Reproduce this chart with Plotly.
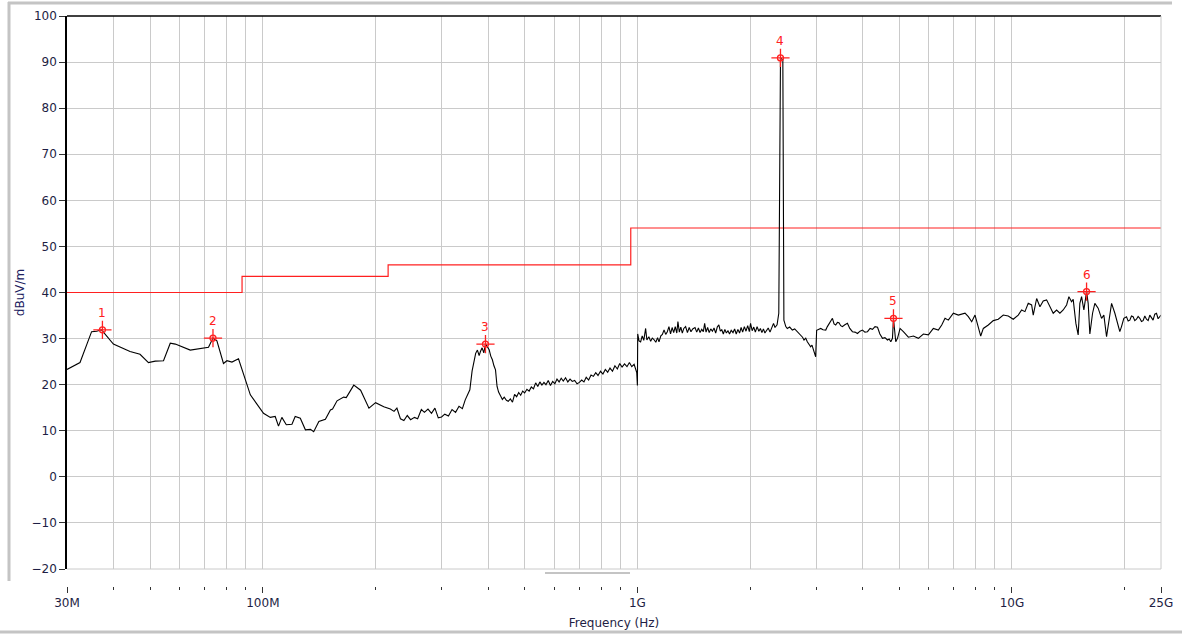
import numpy as np
import plotly.graph_objects as go

# ---------------- data (frequency in MHz, level in dBuV/m) ----------------
seg_a_freq = [30.0, 32.5, 34.9, 36.0, 37.1, 37.9, 39.9, 44.2, 47.0, 49.5, 51.6, 54.3, 56.6, 58.4,
              64.0, 71.6, 73.6, 75.4, 78.5, 80.2, 82.7, 86.1, 92.6, 100.4, 104.7, 107.9, 110.1,
              112.4, 115.5, 119.6, 122.0, 125.9, 129.9, 134.0, 136.7, 141.1, 146.9, 151.5, 153.5,
              157.8, 164.4, 167.0, 174.9, 182.4, 192.0, 200.0, 210.3, 219.0]
seg_a_lvl = [23.3, 24.8, 31.5, 31.6, 31.9, 31.0, 28.8, 27.2, 26.6, 24.8, 25.1, 25.2, 29.0, 28.8,
             27.5, 28.1, 30.1, 29.5, 24.6, 25.2, 24.9, 25.6, 17.8, 13.8, 12.9, 13.1, 11.0,
             12.9, 11.3, 11.4, 13.1, 12.7, 10.2, 10.3, 9.8, 12.0, 12.5, 14.5, 14.7,
             16.5, 17.3, 17.2, 19.9, 18.8, 14.9, 16.1, 15.2, 14.7]

seg_b_freq = [224, 228, 233, 238, 243, 248, 254, 259, 265, 270, 276, 282, 288, 294, 300, 306, 313,
              320, 327, 334, 341, 347, 352, 357, 362, 366, 370, 374, 378, 381, 385, 389, 393, 397,
              402, 406, 410, 414, 418, 422, 426, 431, 436, 441, 447, 452, 458, 464, 470, 476, 482,
              488, 494, 500, 507, 514, 521, 528, 535, 542, 549, 556, 563, 570, 578, 586, 594, 602,
              610, 618, 626, 634, 643, 652, 661, 670, 680, 690, 700, 710, 720, 730, 741, 752, 763,
              774, 785, 797, 809, 821, 833, 845, 858, 871, 884, 897, 910, 924, 938, 952, 966, 980,
              990, 996, 1000]
seg_b_lvl = [14.2, 14.9, 12.6, 12.2, 13.3, 12.4, 12.9, 12.6, 14.6, 14.0, 14.7, 13.8, 14.9, 12.8, 13.0,
             13.6, 13.2, 14.6, 14.0, 15.3, 14.8, 16.7, 17.8, 18.9, 23.0, 24.8, 26.8, 27.5, 26.3, 27.2,
             28.0, 26.9, 28.8, 28.3, 27.6, 26.2, 25.4, 24.1, 23.2, 19.6, 18.4, 17.6, 16.8, 17.3, 16.6,
             16.4, 16.9, 16.2, 17.9, 17.4, 18.3, 17.7, 18.6, 18.2, 19.0, 18.6, 19.5, 19.1, 20.4, 19.6,
             20.6, 19.9, 20.5, 20.0, 20.9, 19.8, 20.7, 20.2, 21.2, 20.6, 21.4, 20.8, 21.5, 20.6, 21.2,
             20.7, 20.9, 20.2, 20.5, 21.0, 20.6, 21.6, 21.0, 22.1, 21.8, 22.6, 22.0, 22.9, 22.3, 23.3,
             22.7, 23.6, 22.9, 24.1, 23.4, 24.6, 23.8, 24.5, 23.9, 24.8, 23.9, 24.4, 23.2, 22.6, 19.8]

seg_c_freq = [1002, 1010, 1020, 1030, 1040, 1052, 1060, 1073, 1085, 1096, 1107, 1120, 1132, 1142,
              1155, 1166, 1178, 1190, 1202, 1214, 1226, 1238, 1250, 1262, 1274, 1283, 1294, 1306,
              1318, 1330, 1345, 1360, 1375, 1390, 1405, 1425, 1440, 1455, 1470, 1485, 1500, 1512,
              1525, 1540, 1555, 1570, 1586, 1602, 1618, 1634, 1650, 1665, 1680, 1696, 1712, 1728,
              1745, 1762, 1780, 1800, 1818, 1836, 1855, 1874, 1892, 1910, 1930, 1950, 1970, 1990,
              2005, 2025, 2045, 2065, 2087, 2110, 2130, 2150, 2170, 2190, 2211, 2235, 2260, 2286,
              2309, 2330, 2360, 2385, 2398, 2410, 2445, 2455]
seg_c_lvl = [31.0, 29.5, 29.3, 30.6, 29.6, 32.2, 29.7, 30.4, 29.4, 30.1, 29.8, 29.2, 30.2, 29.3,
             30.6, 30.9, 31.9, 30.9, 31.5, 32.6, 31.0, 32.4, 31.3, 32.6, 31.2, 33.7, 31.4, 32.5,
             31.2, 32.2, 32.6, 31.3, 32.4, 31.5, 32.1, 32.4, 31.4, 32.3, 31.3, 32.0, 31.5, 33.3,
             31.4, 32.4, 31.3, 32.1, 31.6, 32.3, 31.2, 32.5, 33.0, 31.6, 31.9, 31.0, 32.0, 31.2,
             31.7, 31.0, 31.8, 31.3, 32.1, 31.0, 32.0, 31.2, 32.4, 31.4, 32.6, 31.6, 32.8, 31.5,
             33.3, 31.7, 32.5, 31.4, 32.6, 31.6, 32.2, 31.3, 32.1, 31.2, 31.6, 32.3, 31.4, 32.3,
             33.3, 32.4, 33.0, 35.5, 70.9, 90.9, 90.5, 39.5]

seg_d_freq = [2461, 2490, 2513, 2550, 2592, 2630, 2673, 2700, 2728, 2760, 2785, 2815, 2842, 2870,
              2901, 2925, 2950, 2975, 2992, 3010, 3040, 3086, 3130, 3183, 3215, 3248, 3280, 3317,
              3350, 3384, 3420, 3453, 3490, 3526, 3580, 3637, 3690, 3751, 3810, 3869, 3930, 3990,
              4050, 4114, 4180, 4243, 4310, 4376, 4440, 4512, 4580, 4652, 4700, 4748, 4797, 4815,
              4827, 4845, 4870, 4895, 4950, 5027, 5130]
seg_d_lvl = [34.0, 32.6, 32.2, 32.5, 31.85, 32.1, 31.5, 31.0, 30.8, 30.3, 29.7, 30.1, 29.3, 28.8,
             28.2, 28.6, 27.5, 27.0, 26.05, 31.8, 31.9, 32.2, 31.9, 31.85, 32.6, 33.3, 33.8, 34.4,
             33.2, 32.95, 33.5, 33.45, 32.8, 32.6, 33.0, 33.3, 32.2, 31.5, 31.4, 31.1, 31.6, 31.85,
             31.4, 31.5, 32.2, 32.0, 32.6, 32.45, 31.0, 30.05, 30.2, 29.7, 29.9, 29.3, 30.05, 33.5,
             34.4, 33.0, 30.0, 29.3, 30.1, 32.2, 31.5]

seg_e_freq = [5290, 5456, 5625, 5801, 5982, 6168, 6360, 6494, 6627, 6763, 6975, 7192, 7344, 7494,
              7648, 7809, 7969, 8132, 8253, 8386, 8647, 8916, 9193, 9480, 9775, 10080, 10394,
              10614, 10832, 11054, 11286, 11398, 11640, 11877, 12120, 12374, 12628, 12887, 13159,
              13428, 13703, 13993, 14191, 14428, 14571, 14815, 15025, 15181, 15343, 15560, 15820,
              15978, 16144, 16414, 16647, 16988, 17348, 17594, 17889, 18180, 18450, 18827, 19094,
              19409, 19611, 19893, 20226, 20430, 20640, 20850, 21062, 21280, 21503, 21720, 21944,
              22170, 22393, 22630, 22867, 23100, 23335, 23570, 23813, 24060, 24318, 24560, 25000]
seg_e_lvl = [30.3, 30.55, 30.05, 31.0, 30.8, 32.2, 31.85, 32.95, 34.4, 34.0, 35.5, 35.1, 35.3, 35.5,
             34.75, 33.65, 35.1, 32.6, 30.55, 32.2, 32.95, 33.9, 34.2, 35.1, 34.9, 34.2, 35.1,
             36.2, 35.85, 37.65, 37.3, 35.1, 38.7, 36.9, 38.15, 38.4, 36.9, 35.5, 36.2,
             35.5, 36.2, 37.3, 39.1, 38.0, 38.5, 33.3, 30.8, 37.65, 39.1, 36.2, 40.2,
             37.65, 31.0, 35.5, 37.65, 36.6, 34.4, 35.1, 30.4, 34.4, 37.65, 35.5, 33.65,
             31.5, 32.6, 34.4, 34.75, 33.8, 34.0, 34.9, 34.75, 33.9, 34.2, 34.8, 34.4,
             33.7, 33.9, 34.9, 34.2, 33.9, 35.1, 34.6, 34.0, 35.3, 35.5, 34.3, 35.1]

limit_freq = [30, 88, 216, 960, 25000]
limit_lvl = [40, 43.5, 46, 54, 54]

marker_ids = ["1", "2", "3", "4", "5", "6"]
marker_freq = [37.3, 73.6, 393, 2410, 4827, 15820]
marker_lvl = [31.9, 30.1, 28.8, 90.9, 34.4, 40.2]

grid_freq = [30, 40, 50, 60, 70, 80, 90, 100, 200, 300, 400, 500, 600, 700, 800, 900,
             1000, 2000, 3000, 4000, 5000, 6000, 7000, 8000, 9000, 10000, 20000, 25000]
major_ticks = [30, 100, 1000, 10000, 25000]
major_labels = ["30M", "100M", "1G", "10G", "25G"]
y_ticks = list(range(-20, 101, 10))

trace_freq = seg_a_freq + seg_b_freq + seg_c_freq + seg_d_freq + seg_e_freq
trace_lvl = seg_a_lvl + seg_b_lvl + seg_c_lvl + seg_d_lvl + seg_e_lvl

# ---------------- figure ----------------
FONT = "DejaVu Sans"
TXT = "#1e1e44"
GRID = "#cacaca"
RED = "#ff2020"

fig = go.Figure()
fig.add_trace(go.Scatter(x=limit_freq, y=limit_lvl, mode="lines", line_shape="hv",
                         line=dict(color=RED, width=1.2), hoverinfo="skip"))
fig.add_trace(go.Scatter(x=trace_freq, y=trace_lvl, mode="lines",
                         line=dict(color="#000000", width=1.1)))
fig.add_trace(go.Scatter(x=marker_freq, y=marker_lvl, mode="markers",
                         marker=dict(symbol="cross-thin-open", size=13, color=RED,
                                     line=dict(color=RED, width=1.3))))
fig.add_trace(go.Scatter(x=marker_freq, y=marker_lvl, mode="markers",
                         marker=dict(symbol="circle-open", size=6, color=RED,
                                     line=dict(color=RED, width=1.3))))
for mid, f, v in zip(marker_ids, marker_freq, marker_lvl):
    fig.add_annotation(x=np.log10(f), y=v, text=mid, showarrow=False, yshift=17,
                       font=dict(family=FONT, size=12, color=RED))

x0p, x1p = 67, 1161
y0p, y1p = 586, 16   # paper area (bottom at tick row)
plot_bottom = 569


def px(x):
    return (x - x0p) / (x1p - x0p)


def py(y):
    return (y0p - y) / (y0p - y1p)


ydom0 = py(plot_bottom)

fig.update_layout(
    width=1182, height=635,
    margin=dict(l=x0p, r=1182 - x1p, t=y1p, b=635 - y0p, autoexpand=False),
    paper_bgcolor="white", plot_bgcolor="white",
    showlegend=False,
    font=dict(family=FONT, size=12, color=TXT),
    xaxis=dict(type="log", range=[np.log10(30), np.log10(25000)],
               anchor="free", position=0, automargin=False,
               tickmode="array", tickvals=major_ticks, ticktext=major_labels,
               ticks="outside", ticklen=6, tickwidth=1, tickcolor="#333333",
               showgrid=True, gridcolor=GRID, gridwidth=1,
               minor=dict(tickmode="array", tickvals=grid_freq, ticks="outside", ticklen=3,
                          tickcolor="#333333", showgrid=True, gridcolor=GRID, gridwidth=1),
               showline=False, zeroline=False,
               tickfont=dict(family=FONT, size=12, color=TXT),
               title=dict(text="Frequency (Hz)", standoff=9,
                          font=dict(family=FONT, size=12, color=TXT))),
    yaxis=dict(domain=[ydom0, 1], range=[-20, 100], tickmode="array", tickvals=y_ticks,
               automargin=False,
               ticks="outside", ticklen=6, tickwidth=1, tickcolor="#333333",
               showgrid=True, gridcolor=GRID, gridwidth=1,
               showline=True, linecolor="#000000", linewidth=1.5, zeroline=False,
               tickfont=dict(family=FONT, size=12, color=TXT),
               title=dict(text="dBuV/m", standoff=4,
                          font=dict(family=FONT, size=12, color="#202060"))),
)

shapes = [
    # top black border of plot
    dict(type="line", xref="paper", yref="paper", x0=0, x1=1, y0=1, y1=1,
         line=dict(color="#000000", width=1.5)),
    # bottom and right gray borders
    dict(type="line", xref="paper", yref="paper", x0=0, x1=1, y0=ydom0, y1=ydom0,
         line=dict(color=GRID, width=1)),
    dict(type="line", xref="paper", yref="paper", x0=1, x1=1, y0=ydom0, y1=1,
         line=dict(color=GRID, width=1)),
    # outer gray frame
    dict(type="line", xref="paper", yref="paper", x0=px(9), x1=px(9), y0=py(2), y1=py(581),
         line=dict(color="#c4c4c4", width=3)),
    dict(type="line", xref="paper", yref="paper", x0=px(8), x1=px(1172), y0=py(3), y1=py(3),
         line=dict(color="#c4c4c4", width=3)),
    dict(type="line", xref="paper", yref="paper", x0=px(0), x1=px(1182), y0=py(632), y1=py(632),
         line=dict(color="#c4c4c4", width=3)),
    dict(type="line", xref="paper", yref="paper", x0=px(545), x1=px(630), y0=py(573), y1=py(573),
         line=dict(color="#c4c4c4", width=2)),
]
fig.update_layout(shapes=shapes)

fig.write_html("out.html", config={"displayModeBar": False},
               post_script="document.body.style.margin='0px';document.body.style.overflow='hidden';")
